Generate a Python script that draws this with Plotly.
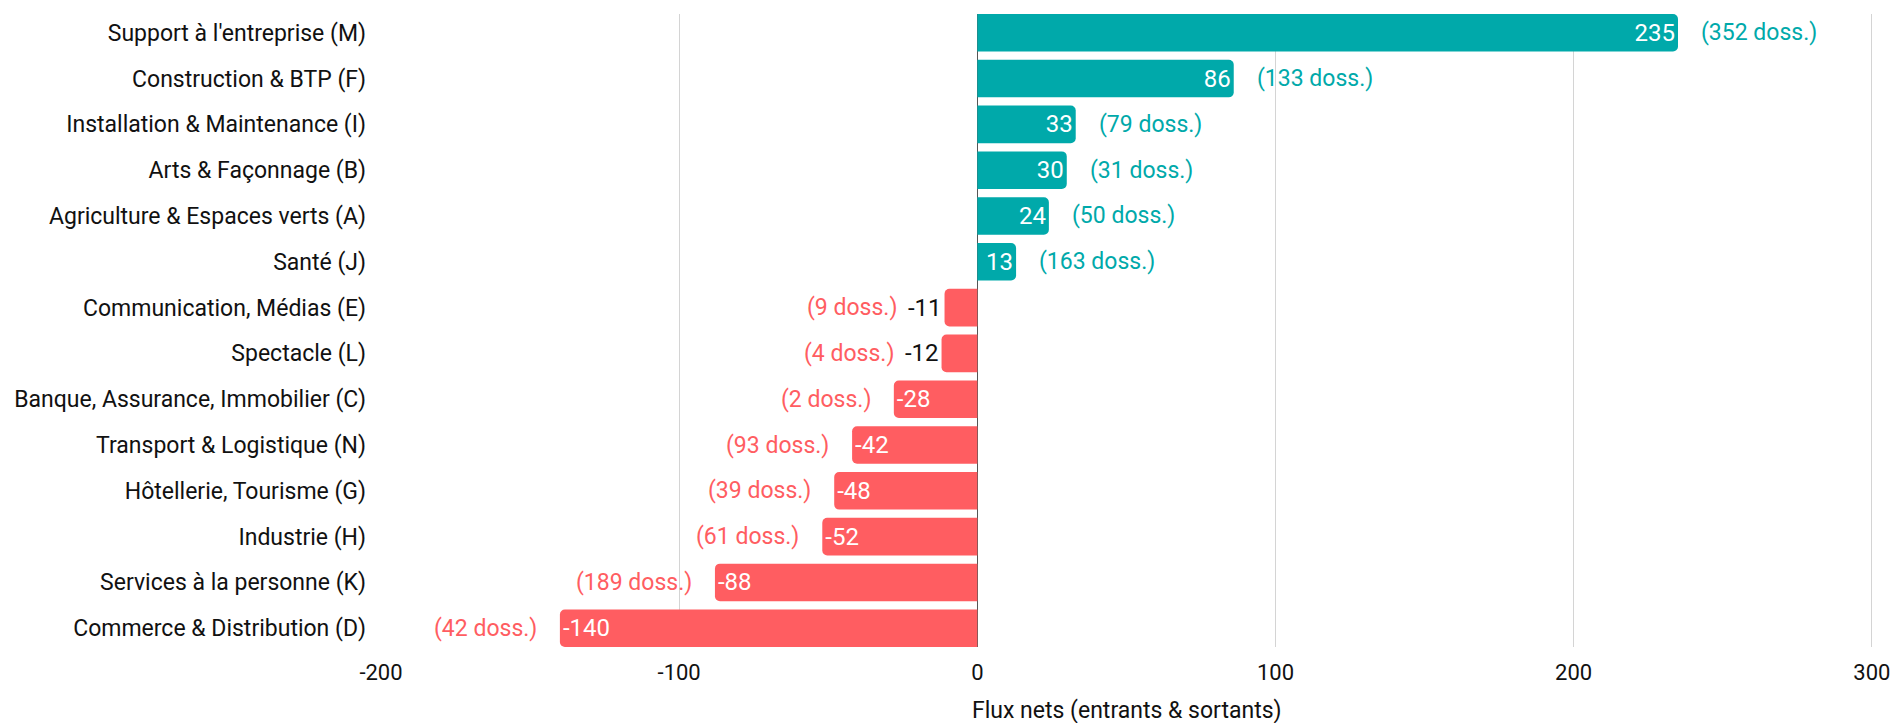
import plotly.graph_objects as go

categories = [
    "Support à l'entreprise (M)",
    "Construction & BTP (F)",
    "Installation & Maintenance (I)",
    "Arts & Façonnage (B)",
    "Agriculture & Espaces verts (A)",
    "Santé (J)",
    "Communication, Médias (E)",
    "Spectacle (L)",
    "Banque, Assurance, Immobilier (C)",
    "Transport & Logistique (N)",
    "Hôtellerie, Tourisme (G)",
    "Industrie (H)",
    "Services à la personne (K)",
    "Commerce & Distribution (D)",
]
net_flux = [235, 86, 33, 30, 24, 13, -11, -12, -28, -42, -48, -52, -88, -140]
dossiers = [352, 133, 79, 31, 50, 163, 9, 4, 2, 93, 39, 61, 189, 42]
x_ticks = [-200, -100, 0, 100, 200, 300]
x_title = "Flux nets (entrants & sortants)"

TEAL = "#00A9AA"
RED = "#FF5D61"
FONT = "Roboto"

colors = [TEAL if v >= 0 else RED for v in net_flux]
small = [abs(v) < 20 and v < 0 for v in net_flux]
textpos = ["outside" if s else "inside" for s in small]

fig = go.Figure()
fig.add_trace(go.Bar(
    x=net_flux,
    y=categories,
    orientation="h",
    marker=dict(color=colors, cornerradius=5, line=dict(width=0)),
    text=[str(v) for v in net_flux],
    textposition=textpos,
    insidetextanchor="end",
    insidetextfont=dict(color="white", size=24, family=FONT),
    outsidetextfont=dict(color="#111111", size=24, family=FONT),
    textangle=0,
    cliponaxis=False,
    hoverinfo="skip",
))

for cat, v, d, s in zip(categories, net_flux, dossiers, small):
    if v >= 0:
        xa, xs, col = "left", 21, TEAL
    else:
        xa, xs, col = "right", (-46 if s else -21), RED
    fig.add_annotation(
        x=v, y=cat, text=f"({d} doss.)", showarrow=False,
        xanchor=xa, xshift=xs, yanchor="middle",
        font=dict(color=col, size=23, family=FONT),
    )

fig.add_annotation(
    x=0.5, y=0, xref="paper", yref="paper", text=x_title, showarrow=False,
    xanchor="center", yanchor="middle", yshift=-63,
    font=dict(color="#111111", size=23, family=FONT),
)

fig.update_layout(
    width=1896, height=723,
    margin=dict(l=381, r=23, t=14, b=76),
    paper_bgcolor="white", plot_bgcolor="white",
    bargap=0.18,
    showlegend=False,
    hovermode=False,
    font=dict(family=FONT, size=23, color="#111111"),
    uniformtext=dict(minsize=10, mode="show"),
)
fig.update_xaxes(
    range=[-200, 300.4],
    tickvals=x_ticks,
    ticktext=[str(t) for t in x_ticks],
    showgrid=True, gridcolor="#D4D4D4", gridwidth=1,
    zeroline=True, zerolinecolor="#555555", zerolinewidth=1,
    showline=False,
    automargin=False,
    ticklabelstandoff=10,
    tickfont=dict(size=22, color="#111111"),
)
fig.update_yaxes(
    categoryorder="array", categoryarray=categories,
    range=[13.41, -0.41],
    automargin=False,
    showgrid=False, zeroline=False, showline=False,
    ticklabelstandoff=14,
    tickfont=dict(size=23, color="#111111"),
)

fig.write_html(
    "out.html",
    config={"displayModeBar": False, "staticPlot": True},
    post_script="document.body.style.margin='0';document.body.style.overflow='hidden';",
)
